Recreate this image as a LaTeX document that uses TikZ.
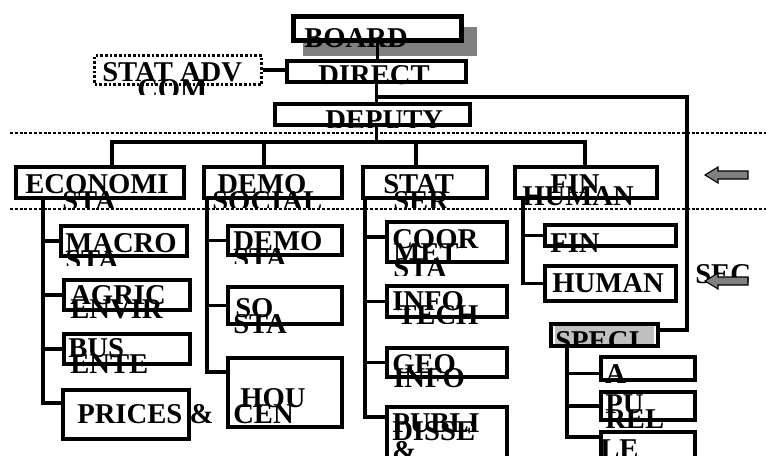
\documentclass[tikz,border=0pt]{standalone}
\usepackage{fontspec}
\setmainfont{Liberation Serif}
\usetikzlibrary{positioning,calc}
\definecolor{sombra}{RGB}{128,128,128}
\definecolor{grisclaro}{RGB}{192,192,192}
% text whose lower part is cut off: name, x, baseline, cut, text
\newcommand{\cortado}[5]{%
  \begin{scope}
    \clip (0,0) rectangle (766,#4);
    \node[txt] (#1) at (#2,#3) {#5};
  \end{scope}}

\begin{document}
\begin{tikzpicture}[x=0.75pt, y=-0.75pt,
    caja/.style n args={2}{draw, line width=3pt, fill=white, inner sep=0pt,
      anchor=north west, minimum width=#1*0.75pt, minimum height=#2*0.75pt},
    txt/.style={font=\bfseries\fontsize{21.5}{21.5}\selectfont, inner sep=0pt, anchor=base west},
    enlace/.style={line width=2.6pt},
    corte/.style={line width=1.6pt, dash pattern=on 2.2pt off 1.4pt}]
  \useasboundingbox (0,0) rectangle (766,456);

  % separators
  \coordinate (sepa) at (10,133);
  \coordinate (sepb) at (10,209);
  \draw[corte] (sepa) -- (sepa -| 766,0);
  \draw[corte] (sepb) -- (sepb -| 766,0);

  % top
  \fill[sombra] (303,27) rectangle (477,56);
  \node[caja={168}{24}, line width=3.5pt] (board) at (291,14) {};
  \node[caja={167}{29}, line width=2.4pt, dash pattern=on 2pt off 1.5pt] (statadv) at (93,54) {};
  \node[caja={179}{21}] (direct) at (285,59) {};
  \node[caja={195}{21}] (deputy) at (273,102) {};

  % divisions
  \foreach \n/\x/\w in {econ/14/168, demo/202/138, stat/361/124, fin/513/142}
    \node[caja={\w}{31}] (\n) at (\x,165) {};

  % sections
  \foreach \n/\x/\y/\w/\h in {macro/59/224/126/30, agric/62/278/126/30, bus/62/332/126/30,
      prices/61/388/126/49, demosta/226/224/114/29, so/226/285/114/37, hou/226/356/114/69,
      coor/385/220/120/40, info/385/284/120/31, geo/385/346/120/29, publi/385/405/120/60,
      finsub/543/223/131/21, human/543/264/131/35, speci/549/322/107/22,
      abox/599/355/94/23, pu/599/390/94/28, le/599/430/94/40}
    \node[caja={\w}{\h}] (\n) at (\x,\y) {};
  \fill[grisclaro] ($(speci.north west)+(6,4)$) rectangle ($(speci.south east)+(-6,-4)$);

  % links
  \draw[enlace] (board.south) -- (board.south |- direct.north);
  \draw[enlace] (direct.south) -- (direct.south |- deputy.north);
  \draw[enlace] (statadv.east) -- (statadv.east -| direct.west);
  \draw[enlace] ($(direct.south)+(0,13)$) -| ($(speci.east)+(27,-5)$) -- ($(speci.east)+(0,-5)$);
  \draw[enlace] (deputy.south -| direct.south) -- ++(0,15) coordinate (rail);
  \draw[enlace] ($(econ.north)+(12,0)$) |- (rail) -| ($(fin.north)+(-1,0)$);
  \foreach \n in {demo,stat}
    \draw[enlace] ($(\n.north)+(-9,0)$) |- (rail);

  \coordinate (econtr) at ($(econ.south west)+(29,-3)$);
  \coordinate (demotr) at ($(demo.south west)+(5,-3)$);
  \coordinate (stattr) at ($(stat.south west)+(4,-3)$);
  \coordinate (fintr) at ($(fin.south west)+(10,-3)$);
  \coordinate (specitr) at ($(speci.south west)+(18,0)$);
  \foreach \b in {macro,agric,bus}
    \draw[enlace] (econtr) |- (\b.west);
  \draw[enlace] (econtr) |- ($(prices.north west)+(0,15)$);
  \foreach \b in {demosta,so}
    \draw[enlace] (demotr) |- (\b.west);
  \draw[enlace] (demotr) |- ($(hou.north west)+(0,16)$);
  \draw[enlace] (stattr) |- ($(coor.west)+(0,-5)$);
  \foreach \b in {info,geo}
    \draw[enlace] (stattr) |- (\b.west);
  \draw[enlace] (stattr) |- ($(publi.north west)+(0,12)$);
  \foreach \b in {finsub,human}
    \draw[enlace] (fintr) |- (\b.west);
  \draw[enlace] (specitr) |- ($(abox.west)+(0,5)$);
  \draw[enlace] (specitr) |- (pu.west);
  \draw[enlace] (specitr) |- ($(le.north west)+(0,7)$);

  % labels
  \foreach \n/\x/\y/\t in {tboard/304/48/BOARD, tadv/102/82/STAT ADV, tdirect/318/85/DIRECT,
      teco/25/193/ECONOMI, tdemo/217/193/DEMO, tstat/383/193/STAT, tfin/550/193/FIN,
      tmacro/65/252/MACRO, tagric/70/304/AGRIC, tenvir/70/318/ENVIR,
      tbus/68/357/BUS, tente/70/373/ENTE, tprices/77/423/PRICES \&,
      tdemos/233/250/DEMO, tso/235/317/SO, tsosta/233/333/STA,
      thou/240/407/HOU, tcen/233/423/CEN,
      tcoor/392/248/COOR, tmet/393/262/MET, tinfo/392/310/INFO,
      tgeo/392/373/GEO, tgeoinfo/393/387/INFO,
      tpubli/392/432/PUBLI, tdisse/392/440/DISSE, tamp/392/460/\&,
      thuman/552/292/HUMAN, tsec/695/283/SEC,
      ta/605/383/A, tpu/605/413/PU, tle/600/458/LE}
    \node[txt] (\n) at (\x,\y) {\t};
  \cortado{tcom}{137}{99}{95}{COM}
  \cortado{tdeputy}{325}{129}{128}{DEPUTY}
  \cortado{tecosta}{62}{210}{207}{STA}
  \cortado{tsocial}{212}{210}{207}{SOCIAL}
  \cortado{tser}{393}{210}{207}{SER}
  \cortado{tfinhum}{522}{205}{207}{HUMAN}
  \cortado{tmacsta}{65}{269}{265}{STA}
  \cortado{tdemsta}{233}{267}{263}{STA}
  \cortado{tcoorsta}{393}{277}{275}{STA}
  \cortado{ttech}{397}{324}{323}{TECH}
  \cortado{tfins}{550}{252}{252}{FIN}
  \cortado{tspeci}{555}{350}{347}{SPECI}
  \cortado{trel}{605}{428}{427}{REL}

  % side arrows
  \foreach \y in {175,281}
    \draw[fill=sombra, line width=0.8pt] (705,\y) -- ++(13,-8) -- ++(0,4) -- ++(30,0)
      -- ++(0,8) -- ++(-30,0) -- ++(0,4) -- cycle;
\end{tikzpicture}
\end{document}
